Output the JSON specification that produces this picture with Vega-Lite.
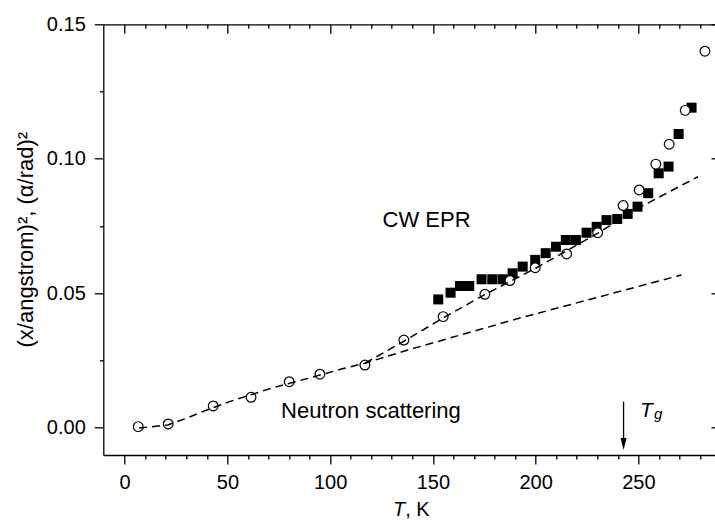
{
  "$schema": "https://vega.github.io/schema/vega-lite/v6.json",
  "width": 611.7,
  "height": 430.7,
  "autosize": {"type": "none"},
  "padding": {"left": 103.3, "top": 24.3, "right": 0, "bottom": 67},
  "background": "white",
  "config": {
    "view": {"stroke": null},
    "font": "Liberation Sans",
    "axis": {
      "domainColor": "black", "tickColor": "black", "labelColor": "black", "titleColor": "black",
      "domainWidth": 1.3, "tickWidth": 1.3, "grid": false,
      "labelFont": "Liberation Sans", "titleFont": "Liberation Sans", "labelFontSize": 20, "titleFontWeight": "normal"
    }
  },
  "datasets": {
    "circles": [
      {"T": 6.6, "v": 0.0004}, {"T": 21.2, "v": 0.0014}, {"T": 43.1, "v": 0.0081}, {"T": 61.5, "v": 0.0113},
      {"T": 80.1, "v": 0.0171}, {"T": 95.0, "v": 0.0199}, {"T": 116.9, "v": 0.0233}, {"T": 135.9, "v": 0.0326},
      {"T": 155.0, "v": 0.0413}, {"T": 175.3, "v": 0.0496}, {"T": 187.5, "v": 0.0547}, {"T": 199.8, "v": 0.0595},
      {"T": 215.1, "v": 0.0646}, {"T": 230.2, "v": 0.0725}, {"T": 242.6, "v": 0.0826}, {"T": 250.4, "v": 0.0884},
      {"T": 258.5, "v": 0.0980}, {"T": 265.0, "v": 0.1054}, {"T": 272.8, "v": 0.1180}, {"T": 282.4, "v": 0.1400}
    ],
    "squares": [
      {"T": 152.6, "v": 0.0477}, {"T": 158.6, "v": 0.0502}, {"T": 163.2, "v": 0.0527}, {"T": 167.7, "v": 0.0527},
      {"T": 173.7, "v": 0.0552}, {"T": 178.9, "v": 0.0552}, {"T": 183.9, "v": 0.0552}, {"T": 188.8, "v": 0.0574},
      {"T": 193.7, "v": 0.0599}, {"T": 199.8, "v": 0.0624}, {"T": 204.9, "v": 0.0649}, {"T": 209.9, "v": 0.0673},
      {"T": 214.7, "v": 0.0698}, {"T": 219.6, "v": 0.0698}, {"T": 224.8, "v": 0.0725}, {"T": 229.7, "v": 0.0747},
      {"T": 234.5, "v": 0.0772}, {"T": 239.7, "v": 0.0776}, {"T": 244.8, "v": 0.0795}, {"T": 249.6, "v": 0.0822},
      {"T": 254.8, "v": 0.0872}, {"T": 259.9, "v": 0.0946}, {"T": 264.7, "v": 0.0971}, {"T": 269.6, "v": 0.1092},
      {"T": 275.9, "v": 0.1190}
    ],
    "fits": [
      {"fit": "harmonic", "T": 7, "v": -0.0001}, {"fit": "harmonic", "T": 21, "v": 0.0010},
      {"fit": "harmonic", "T": 30, "v": 0.0035}, {"fit": "harmonic", "T": 40, "v": 0.0066},
      {"fit": "harmonic", "T": 51, "v": 0.0097}, {"fit": "harmonic", "T": 71, "v": 0.0146},
      {"fit": "harmonic", "T": 89, "v": 0.0183}, {"fit": "harmonic", "T": 106, "v": 0.0219},
      {"fit": "harmonic", "T": 117, "v": 0.0240}, {"fit": "harmonic", "T": 137, "v": 0.0287},
      {"fit": "harmonic", "T": 191, "v": 0.0405}, {"fit": "harmonic", "T": 271, "v": 0.0568},
      {"fit": "upper", "T": 117, "v": 0.0240}, {"fit": "upper", "T": 136, "v": 0.0322},
      {"fit": "upper", "T": 155, "v": 0.0408}, {"fit": "upper", "T": 175, "v": 0.0494},
      {"fit": "upper", "T": 200, "v": 0.0593}, {"fit": "upper", "T": 230, "v": 0.0722},
      {"fit": "upper", "T": 252, "v": 0.0825}, {"fit": "upper", "T": 279, "v": 0.0933}
    ],
    "one": [{}]
  },
  "layer": [
    {
      "data": {"name": "squares"},
      "mark": {"type": "point", "shape": "square", "filled": true, "color": "black", "size": 100, "opacity": 1},
      "encoding": {
        "x": {"field": "T", "type": "quantitative", "scale": {"domain": [-10.4, 287.3], "nice": false},
          "axis": {"orient": "bottom", "values": [0, 50, 100, 150, 200, 250], "tickSize": 9, "labelPadding": 8, "title": null}},
        "y": {"field": "v", "type": "quantitative", "scale": {"domain": [-0.01015, 0.15], "nice": false, "zero": false},
          "axis": {"orient": "left", "values": [0, 0.05, 0.1, 0.15], "format": ".2f", "tickSize": 9, "labelPadding": 9, "title": null}}
      }
    },
    {
      "data": {"name": "circles"},
      "mark": {"type": "point", "shape": "circle", "filled": false, "fill": "white", "fillOpacity": 1, "stroke": "black", "strokeWidth": 1.2, "size": 95, "opacity": 1},
      "encoding": {
        "x": {"field": "T", "type": "quantitative", "scale": {"domain": [-10.4, 287.3], "nice": false},
          "axis": {"orient": "bottom", "values": [10,20,30,40,60,70,80,90,110,120,130,140,160,170,180,190,210,220,230,240,260,270,280],
            "tickSize": 4, "labels": false, "domain": false, "title": null}},
        "y": {"field": "v", "type": "quantitative", "scale": {"domain": [-0.01015, 0.15], "nice": false, "zero": false},
          "axis": {"orient": "left", "values": [0.025, 0.075, 0.125], "tickSize": 4, "labels": false, "domain": false, "title": null}}
      }
    },
    {
      "data": {"name": "fits"},
      "mark": {"type": "line", "color": "black", "strokeWidth": 1.5, "strokeDash": [8, 5]},
      "encoding": {
        "x": {"field": "T", "type": "quantitative", "scale": {"domain": [-10.4, 287.3], "nice": false},
          "axis": {"orient": "top", "values": [0, 50, 100, 150, 200, 250], "tickSize": -9, "labels": false, "title": null}},
        "y": {"field": "v", "type": "quantitative", "scale": {"domain": [-0.01015, 0.15], "nice": false, "zero": false},
          "axis": {"orient": "right", "values": [0, 0.05, 0.1, 0.15], "tickSize": -4, "labels": false, "domain": false, "title": null}},
        "detail": {"field": "fit"}
      }
    },
    {
      "data": {"name": "one"},
      "mark": {"type": "text", "text": "CW EPR", "font": "Liberation Sans", "fontSize": 22, "align": "left", "baseline": "alphabetic", "color": "black"},
      "encoding": {
        "x": {"datum": 125.5, "type": "quantitative", "scale": {"domain": [-10.4, 287.3], "nice": false},
          "axis": {"orient": "top", "values": [10,20,30,40,60,70,80,90,110,120,130,140,160,170,180,190,210,220,230,240,260,270,280],
            "tickSize": -4, "labels": false, "domain": false, "title": null}},
        "y": {"datum": 0.0747, "type": "quantitative", "scale": {"domain": [-0.01015, 0.15], "nice": false, "zero": false}, "axis": null}
      }
    },
    {
      "data": {"name": "one"},
      "mark": {"type": "text", "text": "Neutron scattering", "font": "Liberation Sans", "fontSize": 22, "align": "left", "baseline": "alphabetic", "color": "black"},
      "encoding": {
        "x": {"datum": 76.1, "type": "quantitative", "axis": null},
        "y": {"datum": 0.0035, "type": "quantitative", "axis": null}
      }
    },
    {
      "data": {"name": "one"},
      "mark": {"type": "text", "text": "T", "font": "Liberation Sans", "fontSize": 21, "fontStyle": "italic", "align": "left", "baseline": "alphabetic", "color": "black"},
      "encoding": {
        "x": {"datum": 250.8, "type": "quantitative", "axis": null},
        "y": {"datum": 0.0041, "type": "quantitative", "axis": null}
      }
    },
    {
      "data": {"name": "one"},
      "mark": {"type": "text", "text": "g", "font": "Liberation Sans", "fontSize": 15, "fontStyle": "italic", "align": "left", "baseline": "alphabetic", "color": "black"},
      "encoding": {
        "x": {"datum": 257.6, "type": "quantitative", "axis": null},
        "y": {"datum": 0.00324, "type": "quantitative", "axis": null}
      }
    },
    {
      "data": {"name": "one"},
      "mark": {"type": "rule", "color": "black", "strokeWidth": 1.3},
      "encoding": {
        "x": {"datum": 242.8, "type": "quantitative", "axis": null},
        "y": {"datum": 0.0097, "type": "quantitative", "axis": null},
        "y2": {"datum": -0.0055}
      }
    },
    {
      "data": {"name": "one"},
      "mark": {"type": "point", "shape": "M-0.5,-1L0.5,-1L0,1Z", "filled": true, "color": "black", "size": 144, "opacity": 1},
      "encoding": {
        "x": {"datum": 242.8, "type": "quantitative", "axis": null},
        "y": {"datum": -0.00606, "type": "quantitative", "axis": null}
      }
    },
    {
      "data": {"name": "one"},
      "mark": {"type": "text", "text": "T", "font": "Liberation Sans", "fontSize": 20, "fontStyle": "italic", "align": "right", "baseline": "alphabetic", "color": "black"},
      "encoding": {
        "x": {"datum": 136.5, "type": "quantitative", "axis": null},
        "y": {"datum": -0.03284, "type": "quantitative", "axis": null}
      }
    },
    {
      "data": {"name": "one"},
      "mark": {"type": "text", "text": ", K", "font": "Liberation Sans", "fontSize": 20, "align": "left", "baseline": "alphabetic", "color": "black"},
      "encoding": {
        "x": {"datum": 136.5, "type": "quantitative", "axis": null},
        "y": {"datum": -0.03284, "type": "quantitative", "axis": null}
      }
    },
    {
      "data": {"name": "one"},
      "mark": {"type": "text", "text": "(x/angstrom)², (α/rad)²", "font": "Liberation Sans", "fontSize": 22, "angle": 270, "align": "center", "baseline": "alphabetic", "color": "black"},
      "encoding": {
        "x": {"datum": -44.6, "type": "quantitative", "axis": null},
        "y": {"datum": 0.0699, "type": "quantitative", "axis": null}
      }
    }
  ],
  "resolve": {"axis": {"x": "independent", "y": "independent"}}
}
